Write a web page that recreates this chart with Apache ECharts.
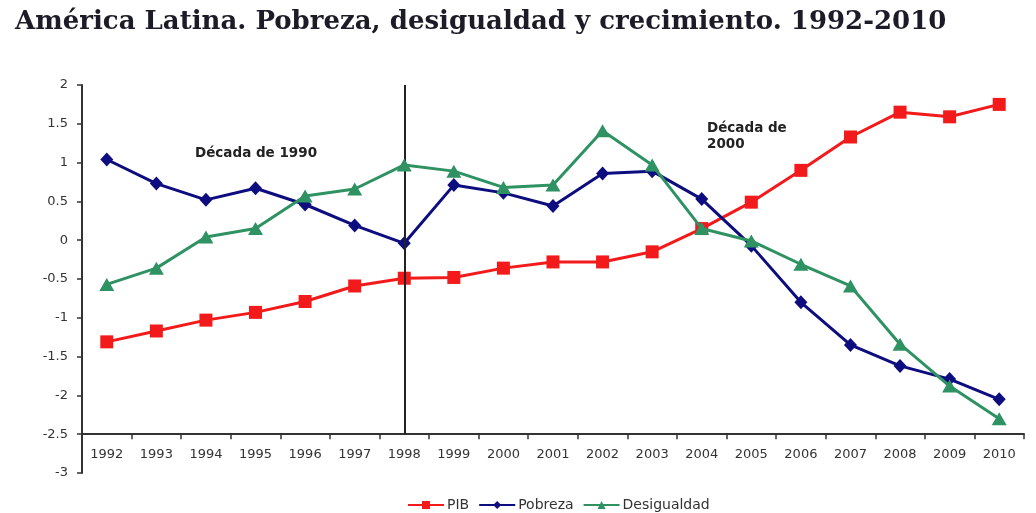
<!DOCTYPE html>
<html><head><meta charset="utf-8">
<script src="https://cdn.jsdelivr.net/npm/echarts@6/dist/echarts.min.js"></script>
<style>html,body{margin:0;padding:0;background:#fff}#c{width:1036px;height:513px}</style>
</head><body><div id="c"></div>
<script>
const years = ['1992','1993','1994','1995','1996','1997','1998','1999','2000','2001','2002','2003','2004','2005','2006','2007','2008','2009','2010'];
const pib = [-1.31,-1.17,-1.03,-0.93,-0.79,-0.59,-0.49,-0.48,-0.36,-0.28,-0.28,-0.15,0.15,0.49,0.90,1.33,1.65,1.59,1.75];
const pobreza = [1.04,0.73,0.52,0.67,0.46,0.19,-0.04,0.71,0.61,0.44,0.86,0.89,0.53,-0.07,-0.80,-1.35,-1.62,-1.79,-2.05];
const desigualdad = [-0.57,-0.36,0.04,0.15,0.57,0.66,0.97,0.89,0.68,0.71,1.41,0.97,0.15,-0.01,-0.31,-0.59,-1.34,-1.88,-2.30];
const titleText = 'América Latina. Pobreza, desigualdad y crecimiento. 1992-2010';

const chart = echarts.init(document.getElementById('c'), null, {renderer:'canvas'});
const axisColor = '#333';
chart.setOption({
  animation:false,
  title:{text:titleText,left:10,top:4,textStyle:{fontFamily:'DejaVu Serif',fontWeight:'bold',fontSize:26,color:'#1c1c28'}},
  grid:{left:82,right:12,top:85,bottom:40},
  legend:{bottom:-4,left:402,itemWidth:36,itemHeight:10,itemGap:9,
    textStyle:{fontFamily:'DejaVu Sans',fontSize:14,color:'#333',padding:[0,0,0,-2]},
    data:['PIB','Pobreza','Desigualdad']},
  xAxis:{type:'category',data:years,boundaryGap:true,offset:-38.8,
    axisLine:{onZero:false,lineStyle:{color:axisColor,width:2}},
    axisTick:{show:true,length:5,lineStyle:{color:axisColor,width:1.5}},
    axisLabel:{fontFamily:'DejaVu Sans',fontSize:13,color:'#333',margin:14}},
  yAxis:{type:'value',min:-3,max:2,interval:0.5,
    axisLine:{show:true,lineStyle:{color:axisColor,width:2}},
    axisTick:{show:true,length:5,lineStyle:{color:axisColor,width:1.5}},
    splitLine:{show:false},
    axisLabel:{fontFamily:'DejaVu Sans',fontSize:13,color:'#333',margin:14}},
  series:[
    {name:'PIB',type:'line',data:pib,symbol:'rect',symbolSize:13,
      lineStyle:{color:'#f21a1a',width:3},itemStyle:{color:'#f21a1a'},z:3,
      markLine:{silent:true,symbol:'none',label:{show:false},
        lineStyle:{color:'#222',width:2,type:'solid'},
        data:[[{coord:['1998',2]},{coord:['1998',-2.5]}]]}},
    {name:'Pobreza',type:'line',data:pobreza,symbol:'diamond',symbolSize:[13,14],
      lineStyle:{color:'#0d0d80',width:3},itemStyle:{color:'#0d0d80'},z:4},
    {name:'Desigualdad',type:'line',data:desigualdad,symbol:'triangle',symbolSize:[15,13],
      lineStyle:{color:'#2f9262',width:3},itemStyle:{color:'#2f9262'},z:5}
  ],
  graphic:[
    {type:'text',left:195,top:146,style:{text:'Década de 1990',font:'bold 13.5px "DejaVu Sans"',fill:'#222'}},
    {type:'text',left:707,top:120,style:{text:'Década de\n2000',font:'bold 13.5px "DejaVu Sans"',fill:'#222',lineHeight:16}}
  ]
});
</script></body></html>
